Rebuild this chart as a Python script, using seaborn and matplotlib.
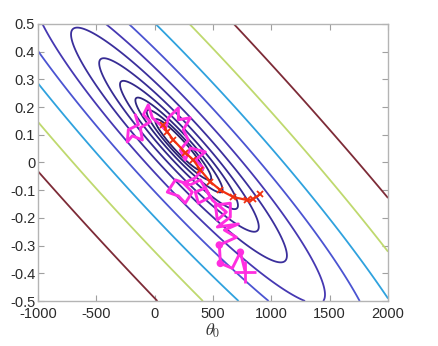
import numpy as np
import matplotlib
matplotlib.use("Agg")
import matplotlib.pyplot as plt
import seaborn as sns

# Cost surface J(theta0, theta1): a quadratic bowl around its minimum
THETA0_MIN, THETA1_MIN = 208.0, 0.063
J_A, J_B, J_C = 1.03936e-5, 0.042770, 49.574   # J = A*d0^2 + B*d0*d1 + C*d1^2
LEVEL_STEP = 1.83
levels = [LEVEL_STEP ** k for k in range(-5, 6)]
level_colors = ["#27206c", "#2a2276", "#2e2580", "#33288a", "#372c94",
                "#3b2f9c", "#4638b2", "#4b54d2", "#2fa2de", "#bfd96e",
                "#7d2b37"]

# Batch gradient descent iterates
bgd_theta0 = [905, 845, 795, 675, 563, 477, 391, 331, 263, 160, 108, 74]
bgd_theta1 = [-0.114, -0.132, -0.136, -0.125, -0.100, -0.070, -0.027,
              0.009, 0.035, 0.081, 0.110, 0.136]

# Stochastic gradient descent iterates
sgd_theta0 = [777, 734, 665, 563, 554, 700, 597, 717, 537, 648, 648, 520,
              537, 614, 494, 434, 348, 374, 477, 391, 305, 177, 108, 203,
              262, 322, 245, 348, 417, 348, 434, 305, 262, 220, 288, 245,
              305, 203, 203, 117, 91, 48, -20, -55, -97, -37, -123, -106,
              -192, -235, -226, -140, -166]
sgd_theta1 = [-0.396, -0.324, -0.382, -0.364, -0.298, -0.270, -0.244, -0.222,
              -0.233, -0.197, -0.147, -0.154, -0.208, -0.179, -0.136, -0.092,
              -0.107, -0.147, -0.125, -0.063, -0.081, -0.063, -0.107, -0.121,
              -0.147, -0.107, -0.074, -0.056, -0.020, 0.009, 0.038, 0.052,
              0.009, 0.045, 0.081, 0.118, 0.161, 0.154, 0.197, 0.161, 0.118,
              0.136, 0.161, 0.208, 0.172, 0.147, 0.125, 0.081, 0.096, 0.074,
              0.118, 0.136, 0.172]
sgd_dot_theta0 = [734, 563, 554]
sgd_dot_theta1 = [-0.324, -0.364, -0.298]

x_ticks = [-1000, -500, 0, 500, 1000, 1500, 2000]
x_tick_labels = ["-1000", "-500", "0", "500", "1000", "1500", "2000"]
y_ticks = [-0.5, -0.4, -0.3, -0.2, -0.1, 0, 0.1, 0.2, 0.3, 0.4, 0.5]
y_tick_labels = ["-0.5", "-0.4", "-0.3", "-0.2", "-0.1", "0", "0.1", "0.2",
                 "0.3", "0.4", "0.5"]

sns.set_theme(style="white")
plt.rcParams["font.family"] = ["Liberation Sans", "DejaVu Sans"]
plt.rcParams["mathtext.fontset"] = "stix"

fig = plt.figure(figsize=(4.39, 3.46), dpi=100)
ax = fig.add_axes([0.0866, 0.130, 0.7974, 0.801])

t0 = np.linspace(-1000, 2000, 600)
t1 = np.linspace(-0.5, 0.5, 600)
T0, T1 = np.meshgrid(t0, t1)
d0, d1 = T0 - THETA0_MIN, T1 - THETA1_MIN
J = J_A * d0 ** 2 + J_B * d0 * d1 + J_C * d1 ** 2
ax.contour(T0, T1, J, levels=levels, colors=level_colors, linewidths=1.3)

sns.lineplot(x=sgd_theta0, y=sgd_theta1, sort=False, estimator=None,
             color="#ff2ee0", linewidth=2.1, ax=ax)
sns.scatterplot(x=sgd_dot_theta0, y=sgd_dot_theta1, color="#ff2ee0",
                s=30, edgecolor="none", ax=ax)
ax.plot(sgd_theta0[0], sgd_theta1[0], marker="+", markersize=16,
        markeredgewidth=2.0, color="#ff2ee0")
sns.lineplot(x=bgd_theta0, y=bgd_theta1, sort=False, estimator=None,
             color="#f03010", linewidth=1.6, marker="x", markersize=4,
             markeredgewidth=1.3, markeredgecolor="#f03010", ax=ax)

ax.set_xlim(-1000, 2000)
ax.set_ylim(-0.5, 0.5)
ax.set_xticks(x_ticks)
ax.set_xticklabels(x_tick_labels)
ax.set_yticks(y_ticks)
ax.set_yticklabels(y_tick_labels)
ax.tick_params(direction="in", length=4, width=0.8, color="#a0a0a0",
               labelsize=10.5, labelcolor="#2a2a2a", top=True, right=True,
               bottom=True, left=True, pad=2)
ax.tick_params(axis="x", pad=4)
for sp in ax.spines.values():
    sp.set_color("#b4b4b4")
    sp.set_linewidth(1.0)

ax.set_xlabel(r"$\theta_0$", fontsize=12, color="#333333", labelpad=1)
ax.set_ylabel(r"$\theta_1$", fontsize=12, color="#333333")
ax.yaxis.set_label_coords(-0.108, 0.5)

fig.savefig("out.png", dpi=100)
